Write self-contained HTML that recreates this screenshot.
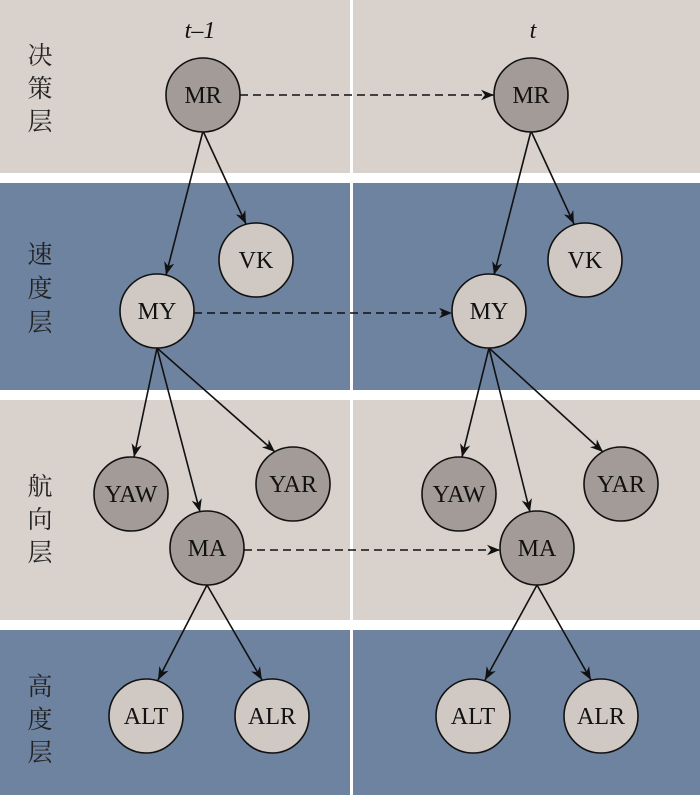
<!DOCTYPE html><html><head><style>body{margin:0;width:700px;height:795px;overflow:hidden;background:#fff}</style></head><body>
<svg width="700" height="795" xmlns="http://www.w3.org/2000/svg" font-family="Liberation Serif, serif">
<defs><marker id="a" viewBox="0 0 10 10" refX="10" refY="5" markerWidth="13" markerHeight="13" markerUnits="userSpaceOnUse" orient="auto"><path d="M0,1 L10,5 L0,9 L3,5z" fill="#111"/></marker></defs>
<g fill="#d8d1cc"><rect x="0" y="0" width="350" height="173"/><rect x="353" y="0" width="347" height="173"/><rect x="0" y="400" width="350" height="220"/><rect x="353" y="400" width="347" height="220"/></g>
<g fill="#6e83a0"><rect x="0" y="183" width="350" height="207"/><rect x="353" y="183" width="347" height="207"/><rect x="0" y="630" width="350" height="165"/><rect x="353" y="630" width="347" height="165"/></g>
<g font-family="Liberation Serif, Noto Serif CJK SC, serif" font-size="25" fill="#222" text-anchor="middle">
<text x="40" y="64">决</text><text x="40" y="97">策</text><text x="40" y="130">层</text>
<text x="40" y="263">速</text><text x="40" y="297">度</text><text x="40" y="331">层</text>
<text x="40" y="495">航</text><text x="40" y="528">向</text><text x="40" y="561">层</text>
<text x="40" y="695">高</text><text x="40" y="728">度</text><text x="40" y="761">层</text>
</g>
<text x="200" y="38" font-size="24" font-style="italic" text-anchor="middle" fill="#111">t–1</text>
<text x="533" y="38" font-size="24" font-style="italic" text-anchor="middle" fill="#111">t</text>
<g stroke="#111" stroke-width="1.6" marker-end="url(#a)" fill="none">
<line x1="203" y1="131" x2="166" y2="275"/><line x1="203" y1="131" x2="246" y2="224"/>
<line x1="157" y1="348" x2="134" y2="457"/><line x1="157" y1="348" x2="200" y2="512"/><line x1="157" y1="348" x2="275" y2="452"/>
<line x1="207" y1="585" x2="158" y2="680"/><line x1="207" y1="585" x2="262" y2="680"/>
<line x1="531" y1="131" x2="494" y2="275"/><line x1="531" y1="131" x2="574" y2="224"/>
<line x1="489" y1="348" x2="462" y2="457"/><line x1="489" y1="348" x2="530" y2="512"/><line x1="489" y1="348" x2="603" y2="452"/>
<line x1="537" y1="585" x2="485" y2="680"/><line x1="537" y1="585" x2="591" y2="680"/>
<g stroke-dasharray="8,5"><line x1="240" y1="95" x2="494" y2="95"/><line x1="194" y1="313" x2="452" y2="313"/><line x1="244" y1="550" x2="500" y2="550"/></g>
</g>
<g stroke="#111" stroke-width="1.6">
<g fill="#a39b97">
<circle cx="203" cy="95" r="37"/><circle cx="531" cy="95" r="37"/>
<circle cx="131" cy="494" r="37"/><circle cx="293" cy="484" r="37"/><circle cx="207" cy="548" r="37"/>
<circle cx="459" cy="494" r="37"/><circle cx="621" cy="484" r="37"/><circle cx="537" cy="548" r="37"/></g>
<g fill="#cfc8c3">
<circle cx="256" cy="260" r="37"/><circle cx="157" cy="311" r="37"/><circle cx="585" cy="260" r="37"/><circle cx="489" cy="311" r="37"/>
<circle cx="146" cy="716" r="37"/><circle cx="272" cy="716" r="37"/><circle cx="473" cy="716" r="37"/><circle cx="601" cy="716" r="37"/></g>
</g>
<g font-size="24" text-anchor="middle" fill="#111">
<text x="203" y="103">MR</text><text x="531" y="103">MR</text>
<text x="256" y="268">VK</text><text x="585" y="268">VK</text>
<text x="157" y="319">MY</text><text x="489" y="319">MY</text>
<text x="131" y="502">YAW</text><text x="293" y="492">YAR</text><text x="207" y="556">MA</text>
<text x="459" y="502">YAW</text><text x="621" y="492">YAR</text><text x="537" y="556">MA</text>
<text x="146" y="724">ALT</text><text x="272" y="724">ALR</text><text x="473" y="724">ALT</text><text x="601" y="724">ALR</text>
</g>
</svg></body></html>
